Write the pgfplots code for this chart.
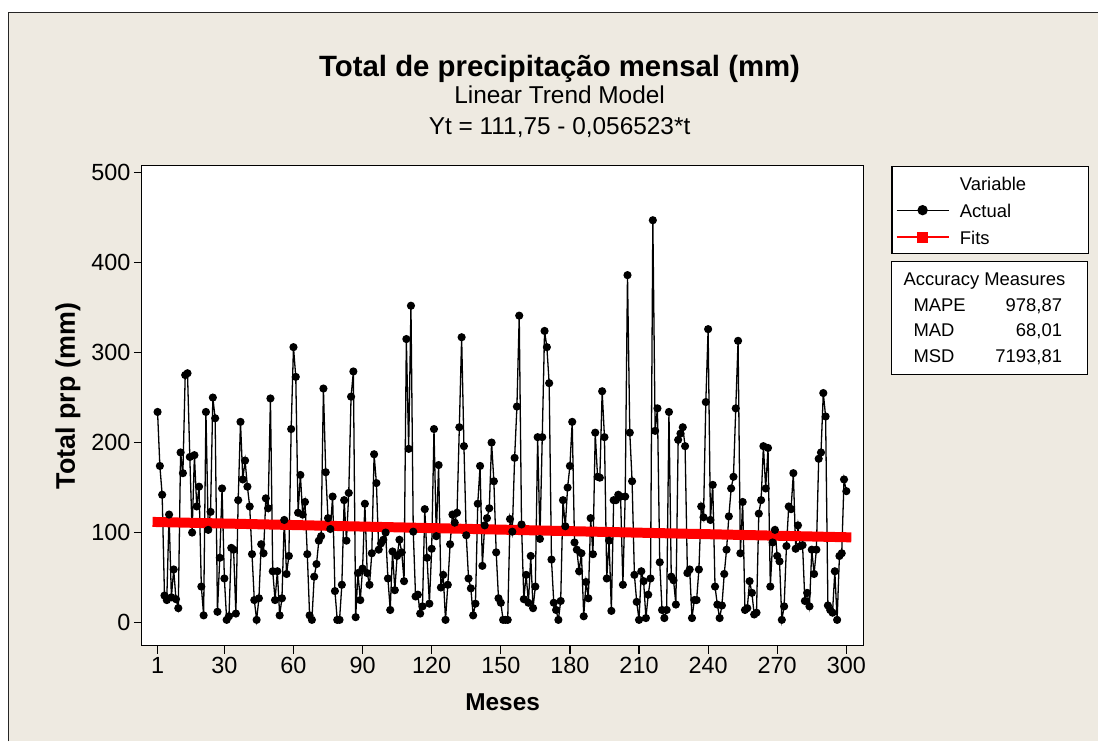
\documentclass[border=0pt]{standalone}
\usepackage{fontspec}
\setmainfont{Liberation Sans}
\usepackage{pgfplots}
\pgfplotsset{compat=1.18}
\usepackage{pgfplotstable}
\definecolor{mtbeige}{RGB}{238,234,225}
\definecolor{mtred}{RGB}{255,0,0}

\pgfplotstableread{
t y
1 234
2 174
3 142
4 30
5 25
6 120
7 28
8 59
9 26
10 16
11 189
12 166
13 275
14 277
15 184
16 100
17 186
18 129
19 151
20 40
21 8
22 234
23 103
24 123
25 250
26 227
27 12
28 72
29 149
30 49
31 3
32 7
33 83
34 81
35 10
36 136
37 223
38 159
39 180
40 151
41 129
42 76
43 25
44 3
45 27
46 87
47 77
48 138
49 127
50 249
51 57
52 25
53 57
54 8
55 27
56 114
57 54
58 74
59 215
60 306
61 273
62 122
63 164
64 120
65 134
66 76
67 8
68 3
69 51
70 65
71 91
72 96
73 260
74 167
75 116
76 104
77 140
78 35
79 3
80 3
81 42
82 136
83 91
84 144
85 251
86 279
87 6
88 55
89 25
90 60
91 132
92 55
93 42
94 77
95 187
96 155
97 81
98 88
99 92
100 100
101 49
102 14
103 79
104 36
105 74
106 92
107 78
108 46
109 315
110 193
111 352
112 101
113 29
114 31
115 10
116 18
117 126
118 72
119 21
120 82
121 215
122 96
123 175
124 39
125 53
126 3
127 42
128 87
129 120
130 111
131 122
132 217
133 317
134 196
135 97
136 49
137 38
138 8
139 21
140 132
141 174
142 63
143 108
144 116
145 127
146 200
147 157
148 78
149 27
150 22
151 3
152 3
153 3
154 115
155 101
156 183
157 240
158 341
159 109
160 26
161 53
162 22
163 74
164 16
165 40
166 206
167 93
168 206
169 324
170 306
171 266
172 70
173 22
174 14
175 3
176 24
177 136
178 107
179 150
180 174
181 223
182 89
183 81
184 57
185 77
186 7
187 45
188 27
189 116
190 76
191 211
192 162
193 161
194 257
195 206
196 49
197 91
198 13
199 136
200 136
201 142
202 140
203 42
204 140
205 386
206 211
207 157
208 53
209 23
210 3
211 57
212 46
213 5
214 31
215 49
216 447
217 213
218 238
219 67
220 14
221 5
222 14
223 234
224 51
225 47
226 20
227 203
228 210
229 217
230 196
231 55
232 59
233 5
234 25
235 25
236 59
237 129
238 117
239 245
240 326
241 114
242 153
243 40
244 20
245 5
246 19
247 54
248 81
249 118
250 149
251 162
252 238
253 313
254 77
255 134
256 14
257 16
258 46
259 33
260 9
261 11
262 121
263 136
264 196
265 149
266 194
267 40
268 89
269 103
270 74
271 68
272 3
273 18
274 85
275 129
276 126
277 166
278 82
279 108
280 85
281 86
282 24
283 33
284 18
285 81
286 54
287 81
288 182
289 189
290 255
291 229
292 19
293 14
294 11
295 57
296 3
297 74
298 77
299 159
300 146
}\actualdata

\pgfplotstableread{
t y
1 111.69
300 94.79
}\fitsdata

\newcommand{\legfont}{\fontsize{18.5}{22}\selectfont}
\newcommand{\legstrut}{\rule[-4bp]{0pt}{20bp}}

\begin{document}
\begin{tikzpicture}[x=1bp,y=1bp]
\fill[white] (0,0) rectangle (1099,742);
\fill[mtbeige] (8.5,0) rectangle (1099,729.3);
\draw[line width=1.6bp, black!85] (8.5,0) -- (8.5,729.3) -- (1099,729.3);
\node[inner sep=0, anchor=base, font=\fontsize{29.5}{34}\selectfont\bfseries] at (560,665.4) {Total de precipitação mensal (mm)};
\node[inner sep=0, anchor=base, font=\fontsize{24.5}{28}\selectfont] at (560,638) {Linear Trend Model};
\node[inner sep=0, anchor=base, font=\fontsize{24.5}{28}\selectfont] at (560,607) {Yt = 111,75 - 0,056523*t};
\begin{axis}[
  at={(142bp,96bp)}, anchor=south west,
  scale only axis, width=722bp, height=480bp,
  xmin=-5.8, xmax=307.4, ymin=-25.5, ymax=507.4,
  xtick={1,30,60,90,120,150,180,210,240,270,300},
  ytick={0,100,200,300,400,500},
  axis background/.style={fill=white},
  axis line style={line width=1.2bp},
  tick style={line width=1.2bp, black},
  tick align=outside, major tick length=8bp,
  xtick pos=bottom, ytick pos=left,
  /pgf/number format/assume math mode=true,
  ticklabel style={font=\fontsize{23.5}{26}\selectfont},
  xlabel={Meses}, ylabel={Total prp (mm)},
  label style={font=\fontsize{24.5}{28}\selectfont\bfseries},
  xlabel style={at={(axis description cs:0.5,-0.1348)}, anchor=base},
  ylabel style={at={(axis description cs:-0.1025,0.52)}, anchor=center, font=\fontsize{27}{30}\selectfont\bfseries},
  legend style={at={(axis description cs:1.0388,1)}, anchor=north west,
    draw=black, line width=1.2bp, fill=white,
    inner xsep=4bp, inner ysep=6bp, row sep=5.5bp, column sep=6.7bp,
    font=\legfont, nodes={inner xsep=4bp, inner ysep=2bp}},
  legend cell align=left,
  legend image code/.code={\draw[mark repeat=2,mark phase=2,#1] plot coordinates {(0bp,0bp) (26bp,0bp) (52bp,0bp)};},
]
\addlegendimage{empty legend}
\addlegendentry{\makebox[121bp][l]{\legstrut Variable}}
\addplot[black, line width=1.3bp, mark=*, mark size=3.4bp, mark options={fill=black}, forget plot] table[x=t,y=y] {\actualdata};
\addlegendimage{black, line width=1.3bp, mark=*, mark size=4.5bp, mark options={fill=black}}
\addlegendentry{\makebox[121bp][l]{\legstrut Actual}}
\addplot[mtred, line width=10bp, line cap=rect, forget plot] table[x=t,y=y] {\fitsdata};
\addlegendimage{mtred, line width=1.3bp, mark=square*, mark size=4.8bp, mark options={fill=mtred}}
\addlegendentry{\makebox[121bp][l]{\legstrut Fits}}
\end{axis}
\draw[line width=1.2bp, fill=white] (892,367) rectangle (1088,480);
\node[inner sep=0, anchor=base west, font=\legfont] at (904,456) {Accuracy Measures};
\node[inner sep=0, anchor=base west, font=\legfont] at (914,430) {MAPE};
\node[inner sep=0, anchor=base east, font=\legfont] at (1063,430) {978,87};
\node[inner sep=0, anchor=base west, font=\legfont] at (914,405) {MAD};
\node[inner sep=0, anchor=base east, font=\legfont] at (1063,405) {68,01};
\node[inner sep=0, anchor=base west, font=\legfont] at (914,379) {MSD};
\node[inner sep=0, anchor=base east, font=\legfont] at (1063,379) {7193,81};
\end{tikzpicture}
\end{document}
